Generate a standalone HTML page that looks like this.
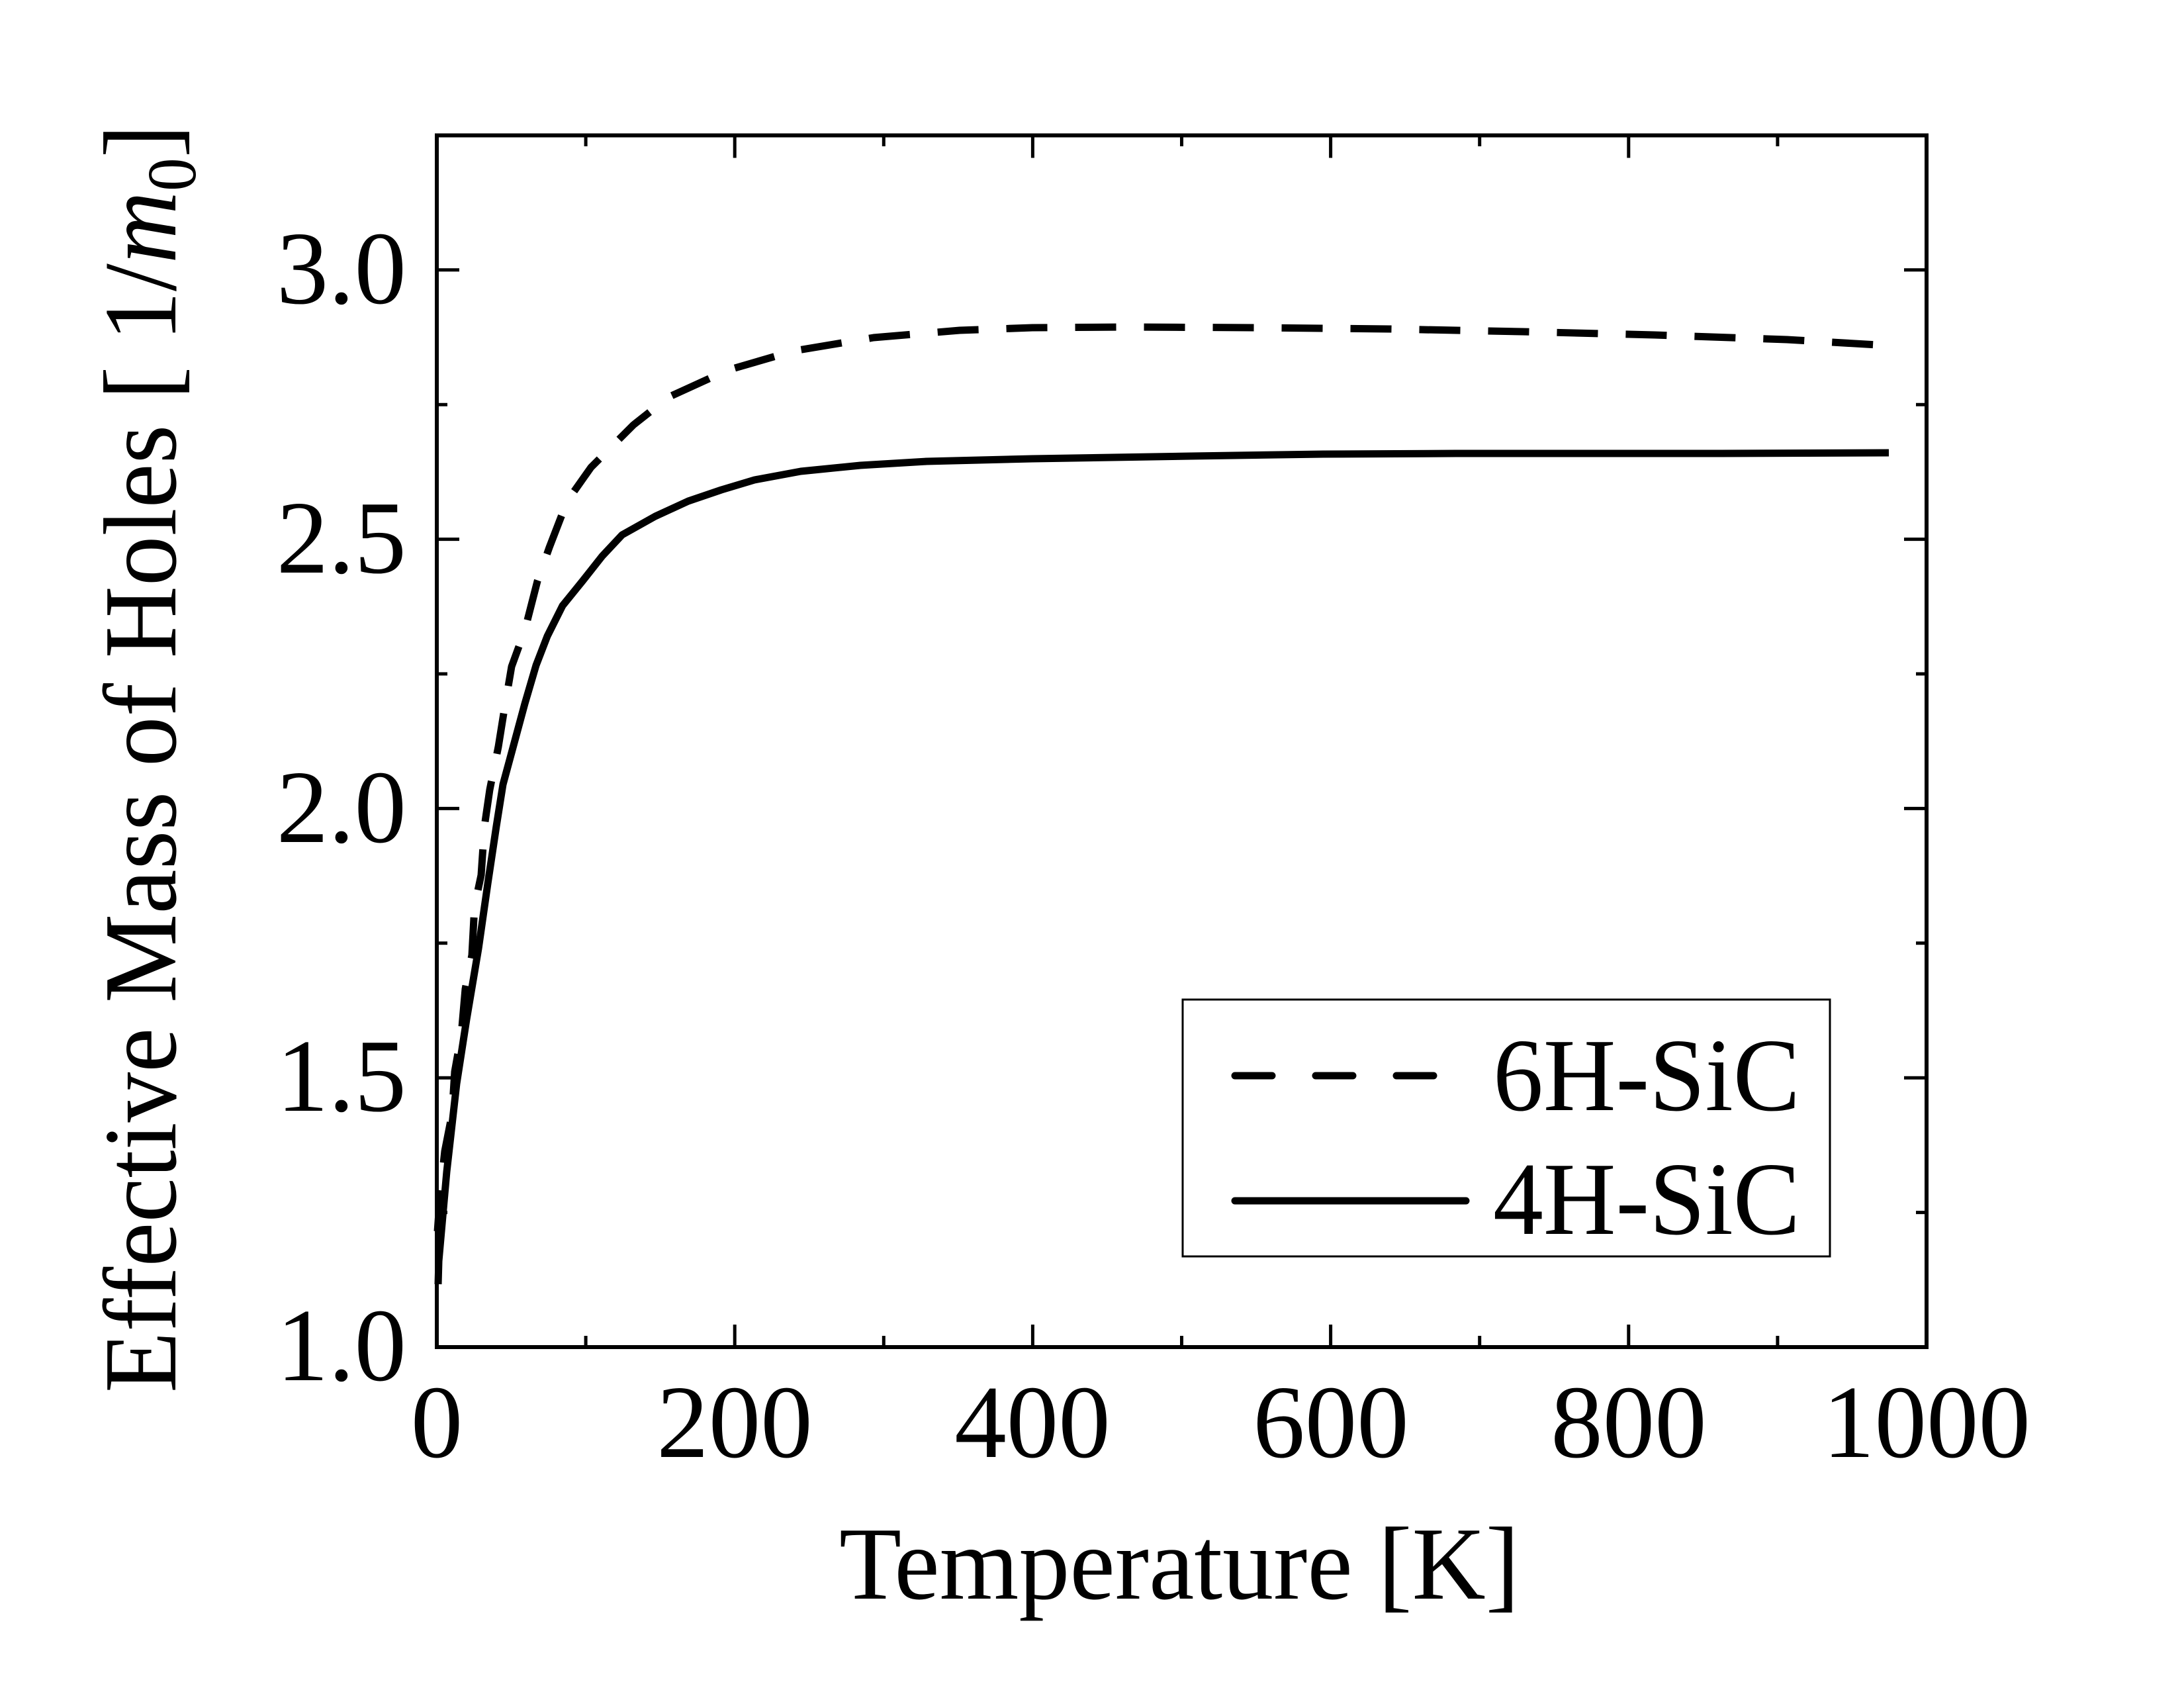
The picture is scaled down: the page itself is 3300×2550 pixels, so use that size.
<!DOCTYPE html>
<html><head><meta charset="utf-8"><style>
html,body{margin:0;padding:0;background:#fff;}
svg{display:block;}
text{font-family:"Liberation Serif",serif;fill:#000;}
</style></head><body>
<svg width="3300" height="2550" viewBox="0 0 3300 2550" xmlns="http://www.w3.org/2000/svg">
<rect width="3300" height="2550" fill="#fff"/>
<!-- curves -->
<polyline fill="none" stroke="#000" stroke-width="11" stroke-linejoin="round" stroke-dasharray="62 42"
 points="661,1860 665,1804 672,1739 683,1683 687,1619 697,1563 703,1494 713,1443 717,1369 727,1322 732,1248 740,1193 753,1128 762,1072 773,1007 793,952 812,878 830,827 857,757 893,706 957,642 1010,600 1100,559 1200,530 1320,510 1450,499 1560,495 1700,494 1900,495 2100,497 2300,501 2500,506 2700,513 2871,523"/>
<polyline fill="none" stroke="#000" stroke-width="11" stroke-linejoin="round"
 points="662,1940 663,1905 675,1770 690,1637 705,1540 723,1433 737,1335 750,1248 760,1185 773,1137 793,1063 810,1005 827,961 850,915 880,878 910,840 940,808 990,780 1040,757 1090,740 1140,725 1210,712 1300,703 1400,697 1560,693 1800,689 2000,686 2200,685 2400,685 2600,685 2854,684"/>
<!-- axes box -->
<rect x="660" y="204.5" width="2251" height="1830.5" fill="none" stroke="#000" stroke-width="6"/>
<g stroke="#000" stroke-width="5">
<!-- x major -->
<path d="M885.1,2035v-34M1110.2,2035v-34M1335.3,2035v-34M1560.4,2035v-34M1785.5,2035v-34M2010.6,2035v-34M2235.7,2035v-34M2460.8,2035v-34M2685.9,2035v-34"/>
<path d="M885.1,204.5v34M1110.2,204.5v34M1335.3,204.5v34M1560.4,204.5v34M1785.5,204.5v34M2010.6,204.5v34M2235.7,204.5v34M2460.8,204.5v34M2685.9,204.5v34"/>
<!-- y ticks -->
<path d="M660,1831.6h34M660,1628.2h34M660,1424.8h34M660,1221.4h34M660,1018h34M660,814.6h34M660,611.2h34M660,407.8h34"/>
<path d="M2911,1831.6h-34M2911,1628.2h-34M2911,1424.8h-34M2911,1221.4h-34M2911,1018h-34M2911,814.6h-34M2911,611.2h-34M2911,407.8h-34"/>
</g>
<g stroke="#fff" stroke-width="6">
<!-- shorten minor x ticks by overpainting -->
<path d="M885.1,1998v20M1335.3,1998v20M1785.5,1998v20M2235.7,1998v20M2685.9,1998v20"/>
<path d="M885.1,221v20M1335.3,221v20M1785.5,221v20M2235.7,221v20M2685.9,221v20"/>
<path d="M676,1831.6h20M676,1424.8h20M676,1018h20M676,611.2h20"/>
<path d="M2875,1831.6h20M2875,1424.8h20M2875,1018h20M2875,611.2h20"/>
</g>
<!-- tick labels -->
<g font-size="157" text-anchor="end">
<text x="614" y="2085">1.0</text>
<text x="614" y="1678">1.5</text>
<text x="614" y="1272">2.0</text>
<text x="614" y="865">2.5</text>
<text x="614" y="458">3.0</text>
</g>
<g font-size="157" text-anchor="middle">
<text x="660" y="2201">0</text>
<text x="1110" y="2201">200</text>
<text x="1560" y="2201">400</text>
<text x="2011" y="2201">600</text>
<text x="2461" y="2201">800</text>
<text x="2911" y="2201">1000</text>
</g>
<text x="1268" y="2415" font-size="157" textLength="1028" lengthAdjust="spacingAndGlyphs">Temperature [K]</text>
<text transform="translate(265,2104) rotate(-90)" font-size="157" textLength="1916" lengthAdjust="spacingAndGlyphs">Effective Mass of Holes [ 1/<tspan font-style="italic">m</tspan><tspan font-size="105" dy="30">0</tspan><tspan dy="-30">]</tspan></text>
<!-- legend -->
<rect x="1787" y="1510" width="978" height="388" fill="#fff" stroke="#000" stroke-width="3"/>
<line x1="1866" y1="1625" x2="2168" y2="1625" stroke="#000" stroke-width="11" stroke-linecap="round" stroke-dasharray="56 66"/>
<line x1="1866" y1="1814" x2="2215" y2="1814" stroke="#000" stroke-width="11" stroke-linecap="round"/>
<text x="2256" y="1677" font-size="157" textLength="464" lengthAdjust="spacingAndGlyphs">6H-SiC</text>
<text x="2256" y="1864" font-size="157" textLength="464" lengthAdjust="spacingAndGlyphs">4H-SiC</text>
</svg>
</body></html>
